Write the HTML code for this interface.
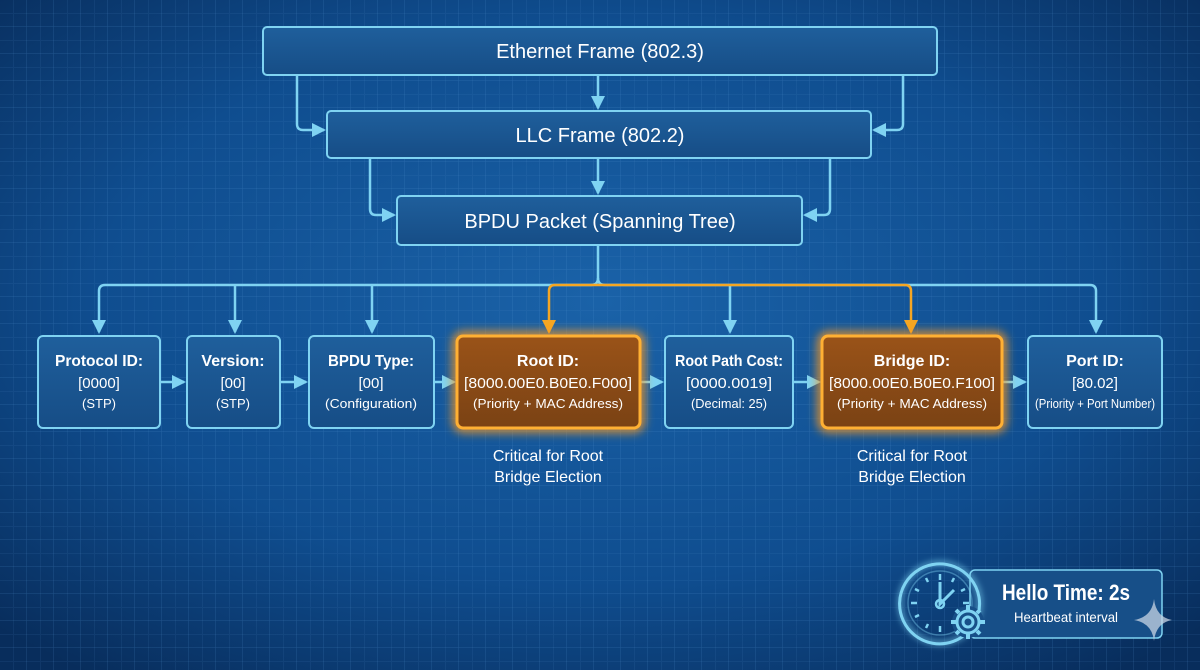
<!DOCTYPE html>
<html><head><meta charset="utf-8"><style>
html,body{margin:0;padding:0;width:1200px;height:670px;overflow:hidden;background:#0b3f7a}
svg text{font-family:"Liberation Sans",sans-serif;fill:#fff}
</style></head><body>
<svg width="1200" height="670" viewBox="0 0 1200 670" xmlns="http://www.w3.org/2000/svg">
<defs>
<radialGradient id="bg" cx="50%" cy="45%" r="70%">
<stop offset="0" stop-color="#1a62a8"/><stop offset="0.6" stop-color="#0f4d8f"/><stop offset="1" stop-color="#082d5c"/>
</radialGradient>
<pattern id="g1" width="27" height="27" patternUnits="userSpaceOnUse">
<path d="M27 0V27M0 27H27" stroke="#5a9ad6" stroke-opacity="0.28" stroke-width="1" fill="none"/>
<path d="M13.5 0V27M0 13.5H27" stroke="#5a9ad6" stroke-opacity="0.1" stroke-width="1" fill="none"/>
</pattern>
<marker id="b" markerWidth="14" markerHeight="14" refX="12" refY="7" orient="auto" markerUnits="userSpaceOnUse" viewBox="0 0 14 14"><path d="M0 0L14 7L0 14z" fill="#7fd3f2"/></marker>
<marker id="o" markerWidth="14" markerHeight="14" refX="12" refY="7" orient="auto" markerUnits="userSpaceOnUse" viewBox="0 0 14 14"><path d="M0 0L14 7L0 14z" fill="#f5a623"/></marker>
<filter id="gl" x="-20%" y="-30%" width="140%" height="160%"><feGaussianBlur stdDeviation="5"/></filter>
<filter id="gl2" x="-30%" y="-30%" width="160%" height="160%"><feGaussianBlur stdDeviation="3"/></filter>
<linearGradient id="bx" x1="0" y1="0" x2="0" y2="1"><stop offset="0" stop-color="#1f5f9c"/><stop offset="1" stop-color="#164d86"/></linearGradient>
<linearGradient id="ob" x1="0" y1="0" x2="0" y2="1"><stop offset="0" stop-color="#9a5318"/><stop offset="1" stop-color="#7a4214"/></linearGradient>
</defs>
<rect width="1200" height="670" fill="url(#bg)"/>
<rect width="1200" height="670" fill="url(#g1)"/>

<g fill="none" stroke="#7fd3f2" stroke-width="2.5">
<path d="M598 75V108" marker-end="url(#b)"/>
<path d="M297 75V124Q297 130 303 130H324" marker-end="url(#b)"/>
<path d="M903 75V124Q903 130 897 130H874" marker-end="url(#b)"/>
<path d="M598 158V193" marker-end="url(#b)"/>
<path d="M370 158V209Q370 215 376 215H394" marker-end="url(#b)"/>
<path d="M830 158V209Q830 215 824 215H805" marker-end="url(#b)"/>
<path d="M598 245V278Q598 285 591 285H105Q99 285 99 291V332" marker-end="url(#b)"/>
<path d="M598 278Q598 285 605 285H1090Q1096 285 1096 291V332" marker-end="url(#b)"/>
<path d="M235 285V332" marker-end="url(#b)"/>
<path d="M372 285V332" marker-end="url(#b)"/>
<path d="M730 285V332" marker-end="url(#b)"/>
<path d="M160 382H184" marker-end="url(#b)"/>
<path d="M280 382H306" marker-end="url(#b)"/>
<path d="M434 382H454" marker-end="url(#b)"/>
<path d="M640 382H662" marker-end="url(#b)"/>
<path d="M793 382H819" marker-end="url(#b)"/>
<path d="M1002 382H1025" marker-end="url(#b)"/>
</g>
<g fill="none" stroke="#f5a623" stroke-width="2.5">
<path d="M598 285H555Q549 285 549 291V332" marker-end="url(#o)"/>
<path d="M598 285H905Q911 285 911 291V332" marker-end="url(#o)"/>
</g>

<g stroke="#7fd3f2" stroke-width="2" fill="url(#bx)">
<rect x="263" y="27" width="674" height="48" rx="4"/>
<rect x="327" y="111" width="544" height="47" rx="4"/>
<rect x="397" y="196" width="405" height="49" rx="4"/>
<rect x="38" y="336" width="122" height="92" rx="5"/>
<rect x="187" y="336" width="93" height="92" rx="5"/>
<rect x="309" y="336" width="125" height="92" rx="5"/>
<rect x="665" y="336" width="128" height="92" rx="5"/>
<rect x="1028" y="336" width="134" height="92" rx="5"/>
</g>
<g>
<rect x="457" y="336" width="183" height="92" rx="6" fill="none" stroke="#ff9a1a" stroke-width="8" filter="url(#gl)"/>
<rect x="822" y="336" width="180" height="92" rx="6" fill="none" stroke="#ff9a1a" stroke-width="8" filter="url(#gl)"/>
<rect x="457" y="336" width="183" height="92" rx="6" fill="url(#ob)" stroke="#ffb033" stroke-width="3"/>
<rect x="822" y="336" width="180" height="92" rx="6" fill="url(#ob)" stroke="#ffb033" stroke-width="3"/>
</g>

<g text-anchor="middle" font-size="20">
<text x="600" y="58">Ethernet Frame (802.3)</text>
<text x="600" y="142">LLC Frame (802.2)</text>
<text x="600" y="228">BPDU Packet (Spanning Tree)</text>
</g>
<g text-anchor="middle" font-size="15">
<g font-weight="bold" font-size="16">
<text x="99" y="366" textLength="88" lengthAdjust="spacingAndGlyphs">Protocol ID:</text>
<text x="233" y="366">Version:</text>
<text x="371" y="366" textLength="86" lengthAdjust="spacingAndGlyphs">BPDU Type:</text>
<text x="548" y="366">Root ID:</text>
<text x="729" y="366" textLength="108" lengthAdjust="spacingAndGlyphs">Root Path Cost:</text>
<text x="912" y="366">Bridge ID:</text>
<text x="1095" y="366">Port ID:</text>
</g>
<text x="99" y="388">[0000]</text>
<text x="233" y="388">[00]</text>
<text x="371" y="388">[00]</text>
<text x="548" y="388" textLength="168" lengthAdjust="spacingAndGlyphs">[8000.00E0.B0E0.F000]</text>
<text x="729" y="388" textLength="86" lengthAdjust="spacingAndGlyphs">[0000.0019]</text>
<text x="912" y="388" textLength="166" lengthAdjust="spacingAndGlyphs">[8000.00E0.B0E0.F100]</text>
<text x="1095" y="388">[80.02]</text>
<g font-size="13">
<text x="99" y="408">(STP)</text>
<text x="233" y="408">(STP)</text>
<text x="371" y="408" textLength="92" lengthAdjust="spacingAndGlyphs">(Configuration)</text>
<text x="548" y="408" textLength="150" lengthAdjust="spacingAndGlyphs">(Priority + MAC Address)</text>
<text x="729" y="408" textLength="76" lengthAdjust="spacingAndGlyphs">(Decimal: 25)</text>
<text x="912" y="408" textLength="150" lengthAdjust="spacingAndGlyphs">(Priority + MAC Address)</text>
<text x="1095" y="408" textLength="120" lengthAdjust="spacingAndGlyphs">(Priority + Port Number)</text>
</g>
<g font-size="16" fill="#e8f2ff">
<text x="548" y="461">Critical for Root</text>
<text x="548" y="482">Bridge Election</text>
<text x="912" y="461">Critical for Root</text>
<text x="912" y="482">Bridge Election</text>
</g>
</g>

<!-- Hello time -->
<rect x="970" y="570" width="192" height="68" rx="5" fill="#174f88" stroke="#7fd3f2" stroke-width="1.5"/>
<g fill="none" stroke="#7fd3f2">
<circle cx="940" cy="603" r="40" stroke-width="6" stroke-opacity="0.5" filter="url(#gl2)"/>
<path d="M968 632A40 40 0 1 1 978 615" stroke-width="3"/>
<circle cx="940" cy="603" r="32" stroke-width="1.5" stroke-opacity="0.4"/>
<path d="M940 574V580M940 626V632M911 603H917M963 603H969M926 578L928 582M954 578L952 582M915 589L919 591M915 617L919 615M926 628L928 624M965 589L961 591" stroke-width="2.5"/>
<path d="M940 582V604L954 590" stroke-width="3"/>
</g>
<circle cx="940" cy="604" r="4" fill="none" stroke="#7fd3f2" stroke-width="2.5"/>
<circle cx="968" cy="622" r="16" fill="#174f88"/>
<g fill="none" stroke="#7fd3f2" stroke-width="3">
<circle cx="968" cy="622" r="11"/><circle cx="968" cy="622" r="5"/>
</g>
<g stroke="#7fd3f2" stroke-width="4">
<path d="M968 605V610M968 634V639M951 622H956M980 622H985M956 610L959 613M977 631L980 634M956 634L959 631M977 613L980 610"/>
</g>
<text x="1066" y="600" text-anchor="middle" font-size="22" font-weight="bold" textLength="128" lengthAdjust="spacingAndGlyphs">Hello Time: 2s</text>
<text x="1066" y="622" text-anchor="middle" font-size="14" textLength="104" lengthAdjust="spacingAndGlyphs">Heartbeat interval</text>
<path d="M1154 599Q1156 617 1172 620Q1156 623 1154 641Q1152 623 1134 620Q1152 617 1154 599z" fill="#c8d4e4" opacity="0.75"/>
</svg>
</body></html>
